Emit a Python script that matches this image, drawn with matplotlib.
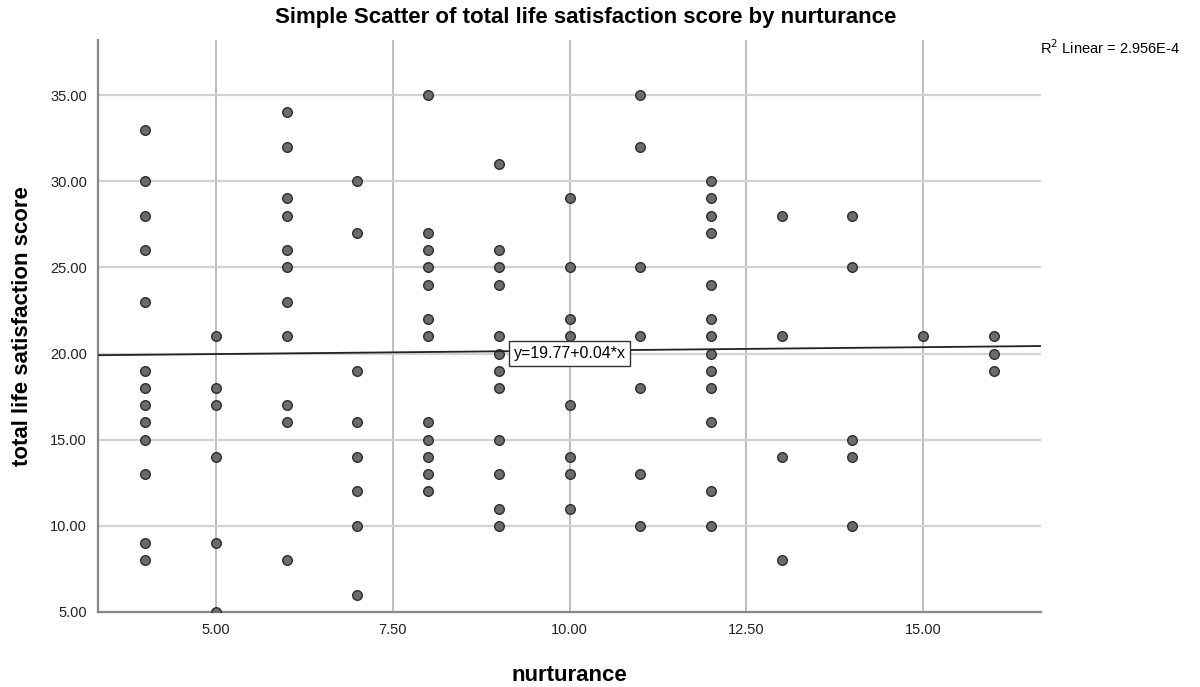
import matplotlib.pyplot as plt
import numpy as np

# nurturance value -> total life satisfaction scores
nurt_levels = [4, 5, 6, 7, 8, 9, 10, 11, 12, 13, 14, 15, 16]
scores_4 = [33, 30, 28, 26, 23, 19, 18, 17, 16, 15, 13, 9, 8]
scores_5 = [21, 18, 17, 14, 9, 5]
scores_6 = [34, 32, 29, 28, 26, 25, 23, 21, 17, 16, 8]
scores_7 = [30, 27, 19, 16, 14, 12, 10, 6]
scores_8 = [35, 27, 26, 25, 24, 22, 21, 16, 15, 14, 13, 12]
scores_9 = [31, 26, 25, 24, 21, 20, 19, 18, 15, 13, 11, 10]
scores_10 = [29, 25, 22, 21, 20, 17, 14, 13, 11]
scores_11 = [35, 32, 25, 21, 18, 13, 10]
scores_12 = [30, 29, 28, 27, 24, 22, 21, 20, 19, 18, 16, 12, 10]
scores_13 = [28, 21, 14, 8]
scores_14 = [28, 25, 15, 14, 10]
scores_15 = [21]
scores_16 = [21, 20, 19]

fit_intercept = 19.77
fit_slope = 0.04
r2_text = "R$^2$ Linear = 2.956E-4"

xticks = [5.0, 7.5, 10.0, 12.5, 15.0]
yticks = [5, 10, 15, 20, 25, 30, 35]

groups = [scores_4, scores_5, scores_6, scores_7, scores_8, scores_9, scores_10,
          scores_11, scores_12, scores_13, scores_14, scores_15, scores_16]
xs = np.concatenate([[lv] * len(g) for lv, g in zip(nurt_levels, groups)])
ys = np.concatenate(groups)

plt.rcParams['font.family'] = ['Liberation Sans', 'DejaVu Sans']

fig = plt.figure(figsize=(12, 6.87), dpi=100)
ax = fig.add_axes([0.0817, 0.1092, 0.7858, 0.8326])

xlim = (3.333, 16.667)
ax.set_xlim(*xlim)
ax.set_ylim(5, 38.2)

ax.set_xticks(xticks)
ax.set_yticks(yticks)
ax.set_xticklabels([f"{t:.2f}" for t in xticks], fontsize=10.5, color='#222222')
ax.set_yticklabels([f"{t:.2f}" for t in yticks], fontsize=10.5, color='#222222')
ax.tick_params(length=0, pad=8)

for t in xticks:
    ax.axvline(t, color='#b4b4b4', lw=1.2, zorder=0)
for t in yticks[1:]:
    ax.axhline(t, color='#d2d2d2', lw=1.6, zorder=0)

for s in ['top', 'right']:
    ax.spines[s].set_visible(False)
for s in ['left', 'bottom']:
    ax.spines[s].set_color('#888888')
    ax.spines[s].set_linewidth(1.6)

ax.scatter(xs, ys, s=48, facecolor='#6b6b6b', edgecolor='#2e2e2e', linewidth=1.0, zorder=3)

lx = np.array(xlim)
ax.plot(lx, fit_intercept + fit_slope * lx, color='#222222', lw=1.3, zorder=4)

ax.text(10.0, 20.0, "y=19.77+0.04*x", fontsize=11.5, ha='center', va='center', zorder=5,
        bbox=dict(boxstyle='square,pad=0.3', facecolor='white', edgecolor='#333333', lw=1.0))

fig.text(0.488, 0.974, "Simple Scatter of total life satisfaction score by nurturance",
         fontsize=16, fontweight='bold', ha='center', va='center')
ax.set_xlabel("nurturance", fontsize=16, fontweight='bold', labelpad=20)
ax.set_ylabel("total life satisfaction score", fontsize=16, fontweight='bold', labelpad=12)

fig.text(0.8667, 0.930, r2_text, fontsize=10.5, ha='left', va='center')

plt.savefig("out.png", dpi=100)
